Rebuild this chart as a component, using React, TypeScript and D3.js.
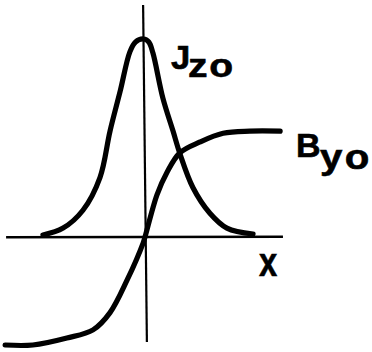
import React from "react";
import * as d3 from "d3";

// Current sheet profile: J_zo (bell) and B_yo (S-shaped), x in units of the sheet half-width.
const jX = [-3.24, -2.6, -1.97, -1.43, -1.11, -0.79, -0.48, -0.3, -0.05, 0.12, 0.25, 0.57, 0.89, 1.11, 1.52, 2.06, 2.6, 3.43];
const jVal = [0.01, 0.045, 0.135, 0.3, 0.535, 0.735, 0.935, 0.985, 1.0, 0.985, 0.93, 0.7, 0.535, 0.42, 0.25, 0.12, 0.045, 0.015];

const bX = [-4.44, -3.56, -2.48, -1.65, -1.11, -0.57, -0.06, 0, 0.38, 0.7, 1.11, 1.75, 2.48, 3.33, 4.29];
const bVal = [-1.0, -1.0, -0.935, -0.86, -0.7, -0.4, -0.056, 0, 0.39, 0.6, 0.78, 0.88, 0.96, 0.98, 0.98];

// Axis extents in the same units
const xAxisRange = [-4.41, 4.38];
const yAxisTilt = [-0.06, 0.06];

const W = 372;
const H = 352;

type LabelPart = { text: string; x: number; y: number; size: number; sx: number; ls: number };
const labels: LabelPart[] = [
  { text: "J", x: 171, y: 69, size: 33, sx: 1.05, ls: 0 },
  { text: "zo", x: 188, y: 77, size: 34, sx: 1.15, ls: 1.5 },
  { text: "B", x: 296, y: 157, size: 34, sx: 1, ls: 0 },
  { text: "yo", x: 320, y: 169, size: 35, sx: 1.15, ls: 2 },
  { text: "x", x: 259, y: 276, size: 40, sx: 0.82, ls: 0 },
];

export default function App() {
  const x = d3.scaleLinear().domain([-1, 1]).range([145 - 31.5, 145 + 31.5]);
  const yJ = d3.scaleLinear().domain([0, 1]).range([237, 39]);
  const yB = d3.scaleLinear().domain([-1, 1]).range([345, 129]);

  const jLine = d3
    .line<number>()
    .x((_, i) => x(jX[i]))
    .y((d) => yJ(d))
    .curve(d3.curveCatmullRom.alpha(0.5));
  const bLine = d3
    .line<number>()
    .x((_, i) => x(bX[i]))
    .y((d) => yB(d))
    .curve(d3.curveCatmullRom.alpha(0.5));

  const font = "'Liberation Sans', Arial, sans-serif";

  return (
    <svg
      width={W}
      height={H}
      viewBox={`0 0 ${W} ${H}`}
      style={{ position: "absolute", left: 0, top: 0, background: "#fff" }}
    >
      {/* axes */}
      <line
        x1={x(xAxisRange[0])}
        y1={yJ(0) + 0.3}
        x2={x(xAxisRange[1])}
        y2={yJ(0) - 0.3}
        stroke="#000"
        strokeWidth={2.4}
      />
      <line
        x1={x(yAxisTilt[0])}
        y1={5}
        x2={x(yAxisTilt[1])}
        y2={342}
        stroke="#000"
        strokeWidth={2.2}
      />
      {/* curves */}
      <path d={jLine(jVal) ?? ""} fill="none" stroke="#000" strokeWidth={5.2} strokeLinecap="round" strokeLinejoin="round" />
      <path d={bLine(bVal) ?? ""} fill="none" stroke="#000" strokeWidth={5.2} strokeLinecap="round" strokeLinejoin="round" />
      {/* labels */}
      <g fontFamily={font} fontWeight="bold" fill="#000" stroke="#000" strokeWidth={0.6}>
        {labels.map((l) => (
          <text
            key={l.text}
            transform={`translate(${l.x},${l.y}) scale(${l.sx},1)`}
            fontSize={l.size}
            letterSpacing={l.ls}
          >
            {l.text}
          </text>
        ))}
      </g>
    </svg>
  );
}
